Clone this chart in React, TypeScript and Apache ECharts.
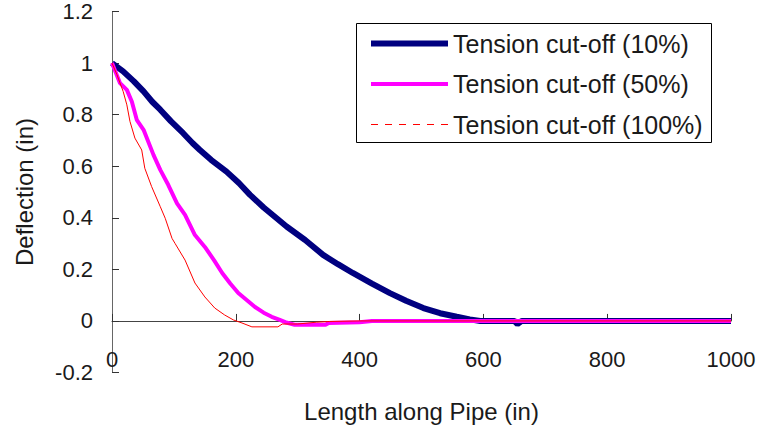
import React, { useEffect, useRef } from "react";
import * as echarts from "echarts";

const seriesNames = ["Tension cut-off (10%)", "Tension cut-off (50%)", "Tension cut-off (100%)"];

const tension10: [number, number][] = [
  [0, 1], [18, 0.968], [35, 0.93], [51, 0.89], [65, 0.85], [78, 0.819], [95, 0.775],
  [115, 0.728], [130, 0.69], [142, 0.663], [160, 0.625], [185, 0.579], [205, 0.535],
  [223, 0.489], [245, 0.44], [265, 0.4], [282, 0.366], [312, 0.314], [341, 0.256],
  [365, 0.22], [389, 0.186], [420, 0.145], [449, 0.108], [475, 0.078], [503, 0.05],
  [530, 0.03], [557, 0.016], [578, 0.006], [595, 0], [650, 0], [655, -0.012], [662, 0],
  [1000, 0],
];

const tension50: [number, number][] = [
  [0, 1], [13, 0.922], [24, 0.896], [32, 0.851], [40, 0.78], [51, 0.741], [67, 0.644],
  [78, 0.586], [91, 0.527], [105, 0.456], [118, 0.411], [134, 0.333], [150, 0.287],
  [165, 0.235], [178, 0.186], [191, 0.145], [204, 0.108], [218, 0.08], [231, 0.054],
  [245, 0.032], [258, 0.016], [270, 0.005], [280, -0.005], [295, -0.015], [345, -0.015],
  [350, -0.008], [400, -0.005], [420, 0], [1000, 0],
];

const tension100: [number, number][] = [
  [0, 1], [8, 0.955], [18, 0.89], [24, 0.838], [29, 0.774], [37, 0.709], [48, 0.663],
  [53, 0.592], [64, 0.521], [78, 0.443], [86, 0.398], [97, 0.32], [102, 0.3],
  [118, 0.236], [134, 0.147], [150, 0.093], [166, 0.05], [182, 0.023], [196, 0.004],
  [210, -0.008], [226, -0.023], [268, -0.023], [275, -0.012], [300, -0.012],
  [330, -0.005], [352, -0.002], [400, 0], [1000, 0],
];

const xTicks = { min: 0, max: 1000, interval: 200 };
const yTicks = { min: -0.2, max: 1.2, interval: 0.2 };

const FONT = "Liberation Sans, Arial, sans-serif";
const TEXT = "#1a1a1a";

export default function App() {
  const ref = useRef<HTMLDivElement>(null);
  useEffect(() => {
    if (!ref.current) return;
    const chart = echarts.init(ref.current, undefined, { renderer: "svg" });
    chart.setOption({
      animation: false,
      backgroundColor: "#ffffff",
      textStyle: { fontFamily: FONT },
      grid: {
        left: 112,
        right: 26,
        top: 11.5,
        bottom: 54.5,
        containLabel: false,
        outerBoundsMode: "none",
      },
      graphic: [
        {
          type: "rect",
          z: 3,
          shape: { x: 356.5, y: 23.5, width: 355, height: 119 },
          style: { fill: "#ffffff", stroke: "#000000", lineWidth: 1 },
        },
      ],
      legend: {
        orient: "vertical",
        left: 368,
        top: 31,
        padding: 0,
        itemWidth: 77,
        itemHeight: 24,
        itemGap: 15.5,
        z: 5,
        textStyle: { fontFamily: FONT, fontSize: 25, color: TEXT, lineHeight: 24 },
        data: [
          {
            name: seriesNames[0],
            itemStyle: { opacity: 0 },
            lineStyle: { width: 6, color: "#000080", opacity: 1 },
          },
          {
            name: seriesNames[1],
            itemStyle: { opacity: 0 },
            lineStyle: { width: 4, color: "#ff00ff", opacity: 1 },
          },
          {
            name: seriesNames[2],
            itemStyle: { opacity: 0 },
            lineStyle: { width: 1, color: "#ff0000", type: [7, 7], opacity: 1 },
          },
        ],
      },
      xAxis: {
        type: "value",
        min: xTicks.min,
        max: xTicks.max,
        interval: xTicks.interval,
        name: "Length along Pipe (in)",
        nameLocation: "middle",
        nameGap: 27,
        nameMoveOverlap: false,
        nameTextStyle: { fontFamily: FONT, fontSize: 24, color: TEXT },
        axisLine: { onZero: true, lineStyle: { color: "#444444", width: 1 } },
        axisTick: { inside: true, length: 7, lineStyle: { color: "#333333" } },
        axisLabel: {
          margin: -24,
          fontFamily: FONT,
          fontSize: 22,
          color: TEXT,
          formatter: (v: number) => String(v),
        },
        splitLine: { show: false },
      },
      yAxis: {
        type: "value",
        min: yTicks.min,
        max: yTicks.max,
        interval: yTicks.interval,
        name: "Deflection (in)",
        nameLocation: "middle",
        nameGap: 76,
        nameTextStyle: { fontFamily: FONT, fontSize: 24, color: TEXT },
        axisLine: { show: true, onZero: false, lineStyle: { color: "#666666", width: 1 } },
        axisTick: { show: true, inside: true, length: 7, lineStyle: { color: "#333333" } },
        axisLabel: {
          margin: 19,
          fontFamily: FONT,
          fontSize: 22,
          color: TEXT,
          formatter: (v: number) => String(Math.round(v * 10) / 10),
        },
        splitLine: { show: false },
      },
      series: [
        {
          name: seriesNames[0],
          type: "line",
          data: tension10,
          symbol: "none",
          lineStyle: { color: "#000080", width: 6 },
          itemStyle: { color: "#000080" },
        },
        {
          name: seriesNames[1],
          type: "line",
          data: tension50,
          symbol: "none",
          lineStyle: { color: "#ff00ff", width: 4 },
          itemStyle: { color: "#ff00ff" },
        },
        {
          name: seriesNames[2],
          type: "line",
          data: tension100,
          symbol: "none",
          lineStyle: { color: "#ff0000", width: 1 },
          itemStyle: { color: "#ff0000" },
        },
      ],
    });
    return () => chart.dispose();
  }, []);
  return (
    <div
      ref={ref}
      style={{ position: "fixed", left: 0, top: 0, width: 757, height: 427, background: "#fff" }}
    />
  );
}
